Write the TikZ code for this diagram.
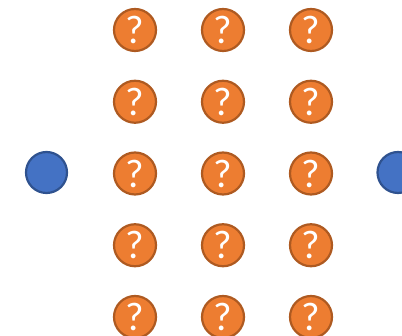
\documentclass[tikz,border=0pt]{standalone}
\usepackage{fontspec}
\newfontfamily\qfont{Carlito}
\usepackage{xcolor}
\usepackage{tikz}
\definecolor{qfill}{HTML}{ED7D31}
\definecolor{qline}{HTML}{AE5A21}
\definecolor{pfill}{HTML}{4472C4}
\definecolor{pline}{HTML}{2F528F}

\begin{document}
\begin{tikzpicture}[x=1pt,y=-1pt,
    qmark/.style={circle, fill=qfill, draw=qline, line width=2.2pt, minimum size=42pt, inner sep=0pt, text=white, font=\qfont\fontsize{40}{40}\selectfont},
    endpt/.style={circle, fill=pfill, draw=pline, line width=2.2pt, minimum size=41pt, inner sep=0pt}]

\useasboundingbox (0,0) rectangle (402,336);

\foreach \i in {0,...,2}
    \foreach \j in {0,...,4}{
        \pgfmathsetmacro\cx{135 + 88*\i};
        \pgfmathsetmacro\cy{30 + 71.75*\j};
        \node[qmark] (q-\i-\j) at (\cx,\cy) {?};
       }
\node[endpt] (src) at (46.5,172.5) {};
\node[endpt] (dst) at (398,172.5) {};

\end{tikzpicture}
\end{document}
